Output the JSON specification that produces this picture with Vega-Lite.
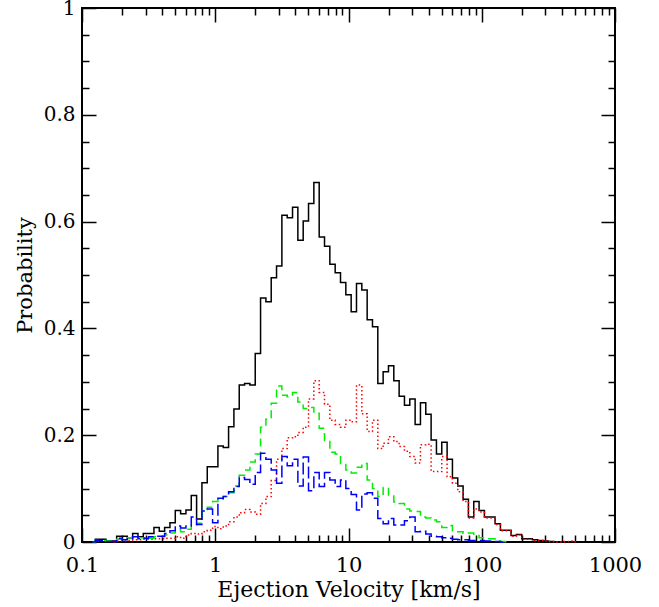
{
  "$schema": "https://vega.github.io/schema/vega-lite/v6.json",
  "width": 533,
  "height": 534,
  "autosize": "none",
  "padding": {"left": 82, "top": 8, "right": 44, "bottom": 65},
  "background": "white",
  "config": {
    "view": {"stroke": "#000", "strokeWidth": 2},
    "axis": {
      "grid": false, "domain": false, "tickColor": "#000", "tickWidth": 1.5,
      "labelFont": "DejaVu Serif", "labelFontSize": 21, "labelColor": "#000",
      "titleFont": "DejaVu Serif", "titleFontSize": 21, "titleFontWeight": "normal", "titleColor": "#000"
    }
  },
  "data": {"values": [
    {"v":0.12023,"k":0,"r":null,"g":0,"b":0},
    {"v":0.13183,"k":0.005,"r":null,"g":0.003,"b":0.003},
    {"v":0.14454,"k":0.005,"r":null,"g":0.003,"b":0.003},
    {"v":0.15849,"k":0.002,"r":null,"g":0.002,"b":0.001},
    {"v":0.17378,"k":0.002,"r":0,"g":0.002,"b":0.001},
    {"v":0.19055,"k":0.011,"r":0.002,"g":0.005,"b":0.007},
    {"v":0.20893,"k":0.011,"r":0.002,"g":0.006,"b":0.004},
    {"v":0.22909,"k":0.008,"r":0.003,"g":0.008,"b":0.006},
    {"v":0.25119,"k":0.016,"r":0.004,"g":0.010,"b":0.010},
    {"v":0.27542,"k":0.010,"r":0.004,"g":0.008,"b":0.006},
    {"v":0.302,"k":0.016,"r":0.005,"g":0.008,"b":0.007},
    {"v":0.33113,"k":0.016,"r":0.005,"g":0.007,"b":0.010},
    {"v":0.36308,"k":0.027,"r":0.006,"g":0.010,"b":0.011},
    {"v":0.39811,"k":0.020,"r":0.006,"g":0.010,"b":0.011},
    {"v":0.43652,"k":0.027,"r":0.007,"g":0.013,"b":0.016},
    {"v":0.47863,"k":0.036,"r":0.007,"g":0.017,"b":0.021},
    {"v":0.52481,"k":0.059,"r":0.010,"g":0.024,"b":0.030},
    {"v":0.57544,"k":0.053,"r":0.007,"g":0.019,"b":0.026},
    {"v":0.63096,"k":0.060,"r":0.013,"g":0.024,"b":0.030},
    {"v":0.69183,"k":0.087,"r":0.016,"g":0.032,"b":0.047},
    {"v":0.75858,"k":0.043,"r":0.015,"g":0.035,"b":0.033},
    {"v":0.83176,"k":0.111,"r":0.019,"g":0.058,"b":0.058},
    {"v":0.91201,"k":0.141,"r":0.022,"g":0.065,"b":0.062},
    {"v":1,"k":0.141,"r":0.029,"g":0.076,"b":0.036},
    {"v":1.0965,"k":0.180,"r":0.025,"g":0.080,"b":0.082},
    {"v":1.2023,"k":0.177,"r":0.030,"g":0.085,"b":0.085},
    {"v":1.3183,"k":0.216,"r":0.038,"g":0.092,"b":0.094},
    {"v":1.4454,"k":0.249,"r":0.047,"g":0.105,"b":0.104},
    {"v":1.5849,"k":0.294,"r":0.055,"g":0.125,"b":0.121},
    {"v":1.7378,"k":0.297,"r":0.061,"g":0.135,"b":0.117},
    {"v":1.9055,"k":0.294,"r":0.056,"g":0.150,"b":0.108},
    {"v":2.0893,"k":0.353,"r":0.052,"g":0.165,"b":0.130},
    {"v":2.2909,"k":0.457,"r":0.072,"g":0.215,"b":0.166},
    {"v":2.5119,"k":0.450,"r":0.085,"g":0.230,"b":0.155},
    {"v":2.7542,"k":0.495,"r":0.115,"g":0.260,"b":0.135},
    {"v":3.02,"k":0.517,"r":0.155,"g":0.292,"b":0.110},
    {"v":3.3113,"k":0.612,"r":0.175,"g":0.275,"b":0.160},
    {"v":3.6308,"k":0.607,"r":0.195,"g":0.272,"b":0.143},
    {"v":3.9811,"k":0.627,"r":0.197,"g":0.280,"b":0.155},
    {"v":4.3652,"k":0.565,"r":0.205,"g":0.262,"b":0.105},
    {"v":4.7863,"k":0.601,"r":0.215,"g":0.250,"b":0.159},
    {"v":5.2481,"k":0.634,"r":0.268,"g":0.252,"b":0.096},
    {"v":5.7544,"k":0.673,"r":0.302,"g":0.241,"b":0.130},
    {"v":6.3096,"k":0.571,"r":0.280,"g":0.213,"b":0.104},
    {"v":6.9183,"k":0.554,"r":0.258,"g":0.190,"b":0.130},
    {"v":7.5858,"k":0.520,"r":0.228,"g":0.168,"b":0.116},
    {"v":8.3176,"k":0.504,"r":0.220,"g":0.165,"b":0.104},
    {"v":9.1201,"k":0.486,"r":0.215,"g":0.147,"b":0.116},
    {"v":10,"k":0.463,"r":0.228,"g":0.135,"b":0.100},
    {"v":10.965,"k":0.431,"r":0.225,"g":0.129,"b":0.089},
    {"v":12.023,"k":0.484,"r":0.294,"g":0.140,"b":0.060},
    {"v":13.183,"k":0.472,"r":0.240,"g":0.147,"b":0.090},
    {"v":14.454,"k":0.416,"r":0.207,"g":0.116,"b":0.092},
    {"v":15.849,"k":0.403,"r":0.228,"g":0.100,"b":0.082},
    {"v":17.378,"k":0.297,"r":0.175,"g":0.085,"b":0.044},
    {"v":19.055,"k":0.319,"r":0.185,"g":0.102,"b":0.034},
    {"v":20.893,"k":0.330,"r":0.197,"g":0.088,"b":0.044},
    {"v":22.909,"k":0.302,"r":0.188,"g":0.075,"b":0.032},
    {"v":25.119,"k":0.273,"r":0.179,"g":0.072,"b":0.032},
    {"v":27.542,"k":0.256,"r":0.170,"g":0.062,"b":0.040},
    {"v":30.2,"k":0.268,"r":0.160,"g":0.058,"b":0.047},
    {"v":33.113,"k":0.220,"r":0.148,"g":0.057,"b":0.019},
    {"v":36.308,"k":0.261,"r":0.182,"g":0.047,"b":0.020},
    {"v":39.811,"k":0.239,"r":0.183,"g":0.045,"b":0.015},
    {"v":43.652,"k":0.191,"r":0.132,"g":0.041,"b":0.011},
    {"v":47.863,"k":0.165,"r":0.132,"g":0.038,"b":0.010},
    {"v":52.481,"k":0.187,"r":0.160,"g":0.027,"b":0.008},
    {"v":57.544,"k":0.155,"r":0.122,"g":0.031,"b":0.007},
    {"v":63.096,"k":0.120,"r":0.110,"g":0.021,"b":0.005},
    {"v":69.183,"k":0.105,"r":0.094,"g":0.019,"b":0.004},
    {"v":75.858,"k":0.080,"r":0.076,"g":0.016,"b":0.004},
    {"v":83.176,"k":0.047,"r":0.045,"g":0.017,"b":0.003},
    {"v":91.201,"k":0.076,"r":0.062,"g":0.012,"b":0.003},
    {"v":100,"k":0.059,"r":0.056,"g":0.008,"b":0.003},
    {"v":109.65,"k":0.047,"r":0.045,"g":0.006,"b":0.002},
    {"v":120.23,"k":0.047,"r":0.045,"g":0.006,"b":0.002},
    {"v":131.83,"k":0.034,"r":0.033,"g":0.002,"b":0.001},
    {"v":144.54,"k":0.022,"r":0.021,"g":0.001,"b":0},
    {"v":158.49,"k":0.022,"r":0.021,"g":0,"b":null},
    {"v":173.78,"k":0.012,"r":0.011,"g":null,"b":null},
    {"v":190.55,"k":0.014,"r":0.013,"g":null,"b":null},
    {"v":208.93,"k":0.006,"r":0.005,"g":null,"b":null},
    {"v":229.09,"k":0.006,"r":0.005,"g":null,"b":null},
    {"v":251.19,"k":0.004,"r":0.003,"g":null,"b":null},
    {"v":275.42,"k":0.003,"r":0.003,"g":null,"b":null},
    {"v":302,"k":0.002,"r":0.002,"g":null,"b":null},
    {"v":331.13,"k":0.001,"r":0.001,"g":null,"b":null},
    {"v":363.08,"k":0,"r":0,"g":null,"b":null},
    {"v":398.11,"k":null,"r":0,"g":null,"b":null},
    {"v":436.52,"k":null,"r":0.001,"g":null,"b":null},
    {"v":478.63,"k":null,"r":0.002,"g":null,"b":null},
    {"v":524.81,"k":null,"r":0,"g":null,"b":null}
  ]},
  "layer": [
    {
      "mark": {"type": "line", "interpolate": "step", "color": "#000000", "strokeWidth": 1.5},
      "encoding": {
        "x": {"field": "v", "type": "quantitative",
              "scale": {"type": "log", "domain": [0.1, 1000]},
              "axis": {"orient": "bottom", "values": [0.1, 1, 10, 100, 1000], "format": "~g",
                       "tickSize": -14, "labelPadding": 26, "labelFlush": false,
                       "title": "Ejection Velocity [km/s]", "titleFontSize": 22, "titlePadding": 4}},
        "y": {"field": "k", "type": "quantitative",
              "scale": {"domain": [0, 1]},
              "axis": {"orient": "left", "values": [0, 0.2, 0.4, 0.6, 0.8, 1], "format": "~g",
                       "tickSize": -14, "labelPadding": 21, "labelFlush": false, "labelFontSize": 20,
                       "title": "Probability", "titlePadding": 8}}
      }
    },
    {
      "mark": {"type": "line", "interpolate": "step", "color": "#ff0000", "strokeWidth": 1.5, "strokeDash": [1.5, 2.5]},
      "encoding": {
        "x": {"field": "v", "type": "quantitative",
              "axis": {"orient": "bottom", "values": [0.2,0.3,0.4,0.5,0.6,0.7,0.8,0.9,2,3,4,5,6,7,8,9,20,30,40,50,60,70,80,90,200,300,400,500,600,700,800,900],
                       "tickSize": -7, "labels": false, "title": null}},
        "y": {"field": "r", "type": "quantitative",
              "axis": {"orient": "left", "values": [0.05,0.1,0.15,0.25,0.3,0.35,0.45,0.5,0.55,0.65,0.7,0.75,0.85,0.9,0.95],
                       "tickSize": -7, "labels": false, "title": null}}
      }
    },
    {
      "mark": {"type": "line", "interpolate": "step", "color": "#00ee00", "strokeWidth": 1.5, "strokeDash": [8, 5]},
      "encoding": {
        "x": {"field": "v", "type": "quantitative",
              "axis": {"orient": "top", "values": [0.1, 1, 10, 100, 1000], "tickSize": -14, "labels": false, "title": null}},
        "y": {"field": "g", "type": "quantitative",
              "axis": {"orient": "right", "values": [0, 0.2, 0.4, 0.6, 0.8, 1], "tickSize": -14, "labels": false, "title": null}}
      }
    },
    {
      "mark": {"type": "line", "interpolate": "step", "color": "#0000ff", "strokeWidth": 1.5, "strokeDash": [12, 4]},
      "encoding": {
        "x": {"field": "v", "type": "quantitative",
              "axis": {"orient": "top", "values": [0.2,0.3,0.4,0.5,0.6,0.7,0.8,0.9,2,3,4,5,6,7,8,9,20,30,40,50,60,70,80,90,200,300,400,500,600,700,800,900],
                       "tickSize": -7, "labels": false, "title": null}},
        "y": {"field": "b", "type": "quantitative",
              "axis": {"orient": "right", "values": [0.05,0.1,0.15,0.25,0.3,0.35,0.45,0.5,0.55,0.65,0.7,0.75,0.85,0.9,0.95],
                       "tickSize": -7, "labels": false, "title": null}}
      }
    }
  ],
  "resolve": {"axis": {"x": "independent", "y": "independent"}}
}
